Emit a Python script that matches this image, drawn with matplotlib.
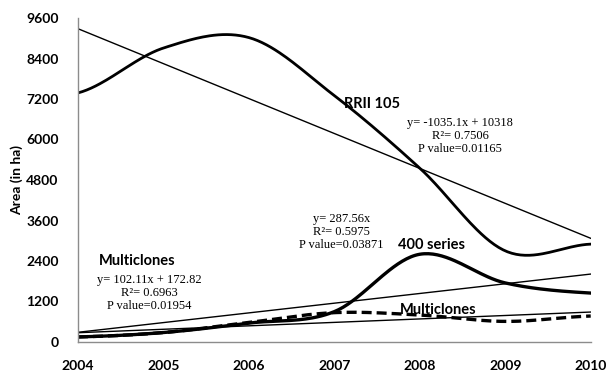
import numpy as np
import matplotlib
matplotlib.use("Agg")
import matplotlib.pyplot as plt

# Data (area in ha)
years = [2004, 2005, 2006, 2007, 2008, 2009, 2010]
rrii105 = [7380, 8710, 9020, 7300, 5150, 2700, 2900]
series400 = [150, 280, 560, 900, 2600, 1750, 1450]
multiclones = [150, 280, 580, 870, 800, 610, 770]

# Linear trend equations shown on the chart (x = 1..7)
rrii_trend = (-1035.1, 10318)
s400_trend = (287.56, 0)
multi_trend = (102.11, 172.82)

yticks = [0, 1200, 2400, 3600, 4800, 6000, 7200, 8400, 9600]


def smooth(x, y, n=40):
    # Excel-style smoothed line (Catmull-Rom through the points)
    x = np.asarray(x, float)
    y = np.asarray(y, float)
    m = np.zeros_like(y)
    m[1:-1] = (y[2:] - y[:-2]) / 2
    m[0] = (y[1] - y[0]) / 2
    m[-1] = (y[-1] - y[-2]) / 2
    xs, ys = [], []
    for i in range(len(x) - 1):
        t = np.linspace(0, 1, n)
        h00 = 2 * t**3 - 3 * t**2 + 1
        h10 = t**3 - 2 * t**2 + t
        h01 = -2 * t**3 + 3 * t**2
        h11 = t**3 - t**2
        xs.append(x[i] + t * (x[i + 1] - x[i]))
        ys.append(h00 * y[i] + h10 * m[i] + h01 * y[i + 1] + h11 * m[i + 1])
    return np.concatenate(xs), np.concatenate(ys)


sans = ["Lato", "DejaVu Sans"]
serif = ["Liberation Serif", "DejaVu Serif"]

fig = plt.figure(figsize=(6.09, 3.75), dpi=100)
ax = fig.add_axes([0.128, 0.088, 0.842, 0.864])

idx = np.arange(1, len(years) + 1)
for a, b in [rrii_trend, s400_trend, multi_trend]:
    ax.plot(years, a * idx + b, color="black", lw=1.0)

xs, ys = smooth(years, rrii105)
ax.plot(xs, ys, color="black", lw=2.0)
xs, ys = smooth(years, series400)
ax.plot(xs, ys, color="black", lw=2.4)
xs, ys = smooth(years, multiclones)
ax.plot(xs, ys, color="black", lw=2.4, linestyle=(0, (3, 1.5)))

ax.set_xlim(2004, 2010)
ax.set_ylim(0, 9600)
ax.set_xticks(years)
ax.set_yticks(yticks)
ax.set_xticklabels([str(y) for y in years], family=sans, fontweight="bold", fontsize=10)
ax.set_yticklabels([str(v) for v in yticks], family=sans, fontweight="bold", fontsize=10)
ax.tick_params(length=0)
ax.tick_params(axis="x", pad=13)
ax.tick_params(axis="y", pad=14)
ax.set_ylabel("Area (in ha)", family=sans, fontweight="bold", fontsize=10, labelpad=2)

for s in ["top", "right"]:
    ax.spines[s].set_visible(False)
for s in ["left", "bottom"]:
    ax.spines[s].set_color("#8c8c8c")
    ax.spines[s].set_linewidth(1.0)

# labels
ax.text(2007.44, 7050, "RRII 105", family=sans, fontweight="bold", fontsize=10.5, ha="center", va="center")
ax.text(2008.14, 2874, "400 series", family=sans, fontweight="bold", fontsize=10.5, ha="center", va="center")
ax.text(2008.22, 948, "Multiclones", family=sans, fontweight="bold", fontsize=10.5, ha="center", va="center")
ax.text(2004.69, 2400, "Multiclones", family=sans, fontweight="bold", fontsize=10.5, ha="center", va="center")

ax.text(2008.47, 6104, "y= -1035.1x + 10318\nR\u00b2= 0.7506\nP value=0.01165",
        family=serif, fontsize=9, ha="center", va="center", linespacing=1.15)
ax.text(2007.08, 3259, "y= 287.56x\nR\u00b2= 0.5975\nP value=0.03871",
        family=serif, fontsize=9, ha="center", va="center", linespacing=1.15)
ax.text(2004.83, 1452, "y= 102.11x + 172.82\nR\u00b2= 0.6963\nP value=0.01954",
        family=serif, fontsize=9, ha="center", va="center", linespacing=1.15)

fig.savefig("out.png", dpi=100)
